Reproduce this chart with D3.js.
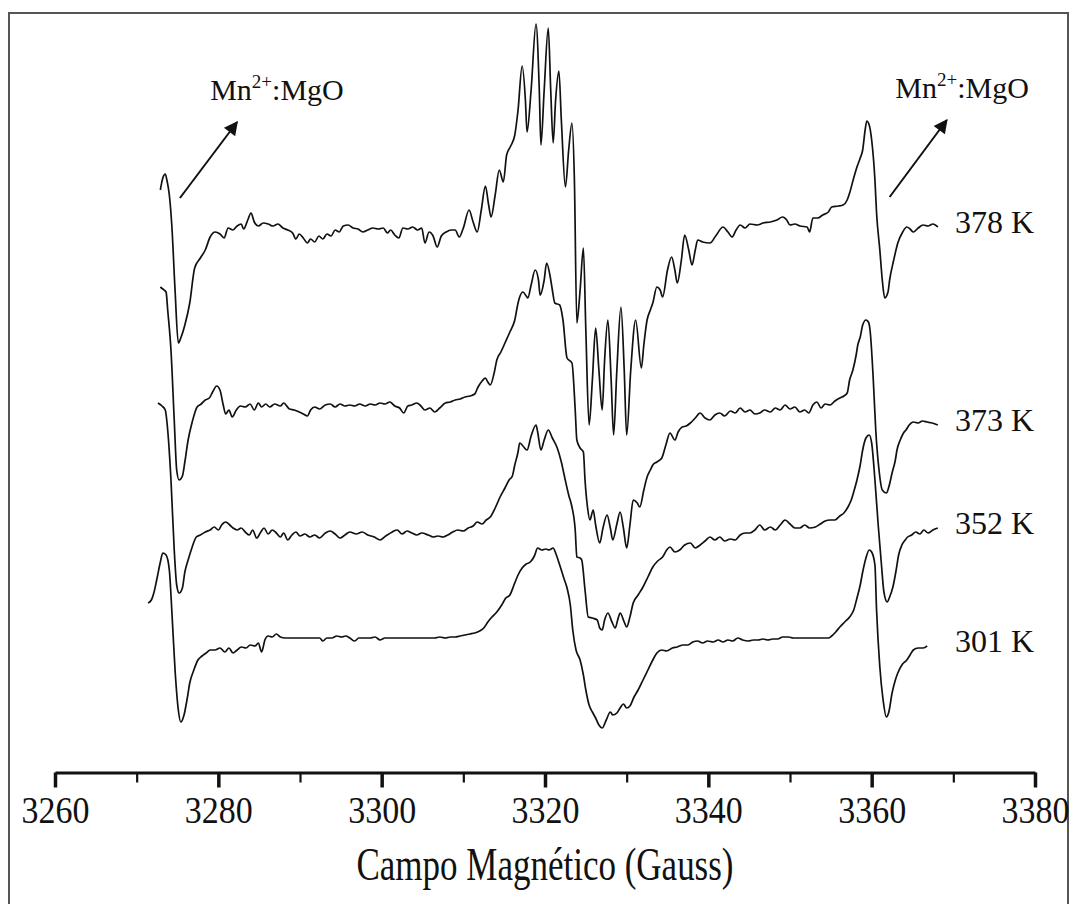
<!DOCTYPE html>
<html>
<head>
<meta charset="utf-8">
<script src="https://cdn.jsdelivr.net/npm/d3@7"></script>
<style>
  body { margin: 0; background: #fff; }
  svg { display: block; }
  text { font-family: "Liberation Serif", "Times New Roman", serif; fill: #111; }
</style>
</head>
<body>
<div id="chart"></div>
<script>
var w = 1074,
    h = 904;

// EPR spectra, [field (G), intensity (a.u.)]
var spec378 = [
  [3272.9,38],[3273.2,50],[3273.5,54],[3273.7,48],[3274.0,33],[3274.3,3],[3274.7,-62],[3275.1,-115],[3275.4,-110],
  [3275.9,-97],[3276.5,-75],[3277.1,-40],[3277.8,-30],[3278.4,-22],[3279.0,-9],[3279.6,-4],[3280.2,-6],[3280.7,-10],
  [3281.2,0],[3281.8,-2],[3282.3,2],[3282.8,4],[3283.1,-1],[3283.6,8],[3284.0,15],[3284.4,6],[3284.9,2],[3285.5,5],
  [3286.1,4],[3286.7,2],[3287.3,4],[3287.9,0],[3288.5,-2],[3289.1,-5],[3289.5,-11],[3289.9,-6],[3290.4,-10],
  [3290.9,-15],[3291.3,-11],[3291.8,-14],[3292.3,-8],[3292.8,-11],[3293.3,-6],[3293.8,-8],[3294.3,-2],[3294.8,-4],
  [3295.3,2],[3295.9,3],[3296.5,0],[3297.1,-1],[3297.7,-4],[3298.3,-2],[3298.9,0],[3299.6,-1],[3300.2,0],[3300.7,-5],
  [3301.1,-2],[3301.6,-7],[3302.1,-10],[3302.6,0],[3303.2,-1],[3303.8,1],[3304.4,-2],[3304.9,0],[3305.3,-15],
  [3305.8,-4],[3306.3,-8],[3306.8,-19],[3307.3,-8],[3307.9,-4],[3308.5,-2],[3309.0,-2],[3309.5,-9],[3310.0,0],
  [3310.7,18],[3311.2,6],[3311.7,-4],[3312.2,18],[3312.7,42],[3313.1,23],[3313.4,11],[3313.9,33],[3314.4,58],
  [3314.9,46],[3315.3,73],[3315.8,82],[3316.3,93],[3316.7,118],[3317.2,162],[3317.6,128],[3317.8,96],[3318.3,138],
  [3318.9,204],[3319.3,138],[3319.5,83],[3319.9,138],[3320.4,200],[3320.7,138],[3321.0,85],[3321.3,128],[3321.7,157],
  [3322.0,108],[3322.5,41],[3322.9,78],[3323.3,105],[3323.6,48],[3323.9,-95],[3324.3,-62],[3324.7,-20],[3325.0,-102],
  [3325.4,-197],[3325.8,-152],[3326.2,-100],[3326.6,-142],[3327.0,-182],[3327.3,-132],[3327.7,-92],[3328.1,-152],
  [3328.4,-207],[3328.8,-142],[3329.3,-79],[3329.7,-142],[3330.0,-207],[3330.5,-142],[3331.1,-92],[3331.8,-140],
  [3332.1,-117],[3332.5,-92],[3332.9,-82],[3333.2,-75],[3333.7,-59],[3334.1,-62],[3334.4,-69],[3335.0,-42],
  [3335.5,-29],[3335.9,-42],[3336.2,-55],[3336.7,-32],[3337.1,-7],[3337.6,-22],[3338.0,-37],[3338.4,-22],[3338.7,-12],
  [3339.3,-14],[3340.2,-15],[3340.9,-8],[3341.8,1],[3342.4,-4],[3342.9,-9],[3343.4,-2],[3343.9,3],[3344.5,0],
  [3345.1,4],[3346.0,3],[3346.7,5],[3347.6,6],[3348.4,8],[3349.1,11],[3349.6,8],[3350.0,3],[3350.6,4],[3351.2,2],
  [3352.1,1],[3352.4,-4],[3352.8,10],[3353.4,10],[3354.0,13],[3354.7,16],[3355.1,21],[3355.9,22],[3356.5,23],
  [3357.0,28],[3357.3,35],[3357.8,50],[3358.2,61],[3358.6,70],[3358.9,78],[3359.2,98],[3359.4,107],[3359.7,103],
  [3360.0,88],[3360.4,48],[3360.6,15],[3361.0,-22],[3361.3,-52],[3361.6,-70],[3362.0,-64],[3362.2,-52],[3362.7,-32],
  [3363.2,-15],[3363.8,-4],[3364.3,1],[3364.7,-1],[3365.1,-4],[3365.7,0],[3366.3,3],[3366.9,2],[3367.5,4],[3368.1,1]
];

var spec373 = [
  [3272.9,118],[3273.2,116],[3273.6,113],[3273.8,95],[3274.2,55],[3274.6,-15],[3274.9,-65],[3275.2,-75],[3275.6,-71],
  [3275.9,-57],[3276.3,-35],[3276.8,-17],[3277.4,-2],[3277.9,1],[3278.4,5],[3278.9,7],[3279.3,13],[3279.8,19],
  [3280.2,15],[3280.6,0],[3280.9,-9],[3281.3,-5],[3281.7,-12],[3282.2,-5],[3282.7,-1],[3283.3,-2],[3283.9,1],
  [3284.4,-5],[3284.9,2],[3285.3,-2],[3285.8,1],[3286.3,-2],[3286.9,1],[3287.6,-1],[3288.0,2],[3288.7,-4],[3289.3,-5],
  [3289.9,-7],[3290.4,-9],[3290.9,-11],[3291.3,-5],[3291.8,-2],[3292.4,-4],[3293.1,0],[3293.7,1],[3294.3,-2],
  [3294.9,1],[3295.5,-1],[3296.1,0],[3296.7,-1],[3297.3,1],[3298.0,-1],[3298.6,1],[3299.2,0],[3299.8,2],[3300.4,1],
  [3301.0,3],[3301.6,-1],[3302.2,-3],[3302.7,-8],[3303.2,-1],[3303.7,0],[3304.3,2],[3304.8,-1],[3305.3,-5],
  [3305.9,-3],[3306.5,-7],[3307.1,-3],[3307.8,2],[3308.4,3],[3309.0,5],[3309.6,6],[3310.2,8],[3310.8,9],[3311.4,11],
  [3311.8,18],[3312.3,24],[3312.7,27],[3313.0,23],[3313.3,20],[3313.8,33],[3314.1,45],[3314.6,53],[3315.1,62],
  [3315.7,73],[3316.3,85],[3316.7,102],[3316.9,108],[3317.3,113],[3317.7,109],[3317.9,107],[3318.3,120],[3318.8,135],
  [3319.2,125],[3319.4,110],[3319.9,125],[3320.2,142],[3320.6,130],[3320.9,115],[3321.2,102],[3321.8,100],[3322.2,85],
  [3322.7,47],[3323.3,42],[3323.7,-5],[3323.9,-35],[3324.3,-43],[3324.7,-47],[3324.9,-75],[3325.2,-102],[3325.5,-115],
  [3325.9,-105],[3326.2,-120],[3326.7,-138],[3327.1,-123],[3327.6,-110],[3328.0,-123],[3328.3,-135],[3328.8,-119],
  [3329.2,-107],[3329.6,-123],[3330.0,-143],[3330.4,-120],[3330.8,-95],[3331.3,-98],[3331.6,-102],[3332.1,-85],
  [3332.5,-72],[3332.9,-65],[3333.2,-60],[3333.7,-57],[3334.3,-53],[3334.8,-40],[3335.3,-28],[3335.9,-35],[3336.3,-27],
  [3336.8,-22],[3337.3,-21],[3337.8,-18],[3338.4,-13],[3339.0,-8],[3339.6,-13],[3340.2,-15],[3340.8,-10],[3341.4,-8],
  [3342.0,-11],[3342.7,-6],[3343.3,-8],[3343.9,-3],[3344.5,-7],[3345.1,-5],[3345.7,-9],[3346.3,-8],[3346.9,-5],
  [3347.6,-7],[3348.2,-3],[3348.8,-5],[3349.4,0],[3350.0,-4],[3350.6,-2],[3351.2,-7],[3351.8,-5],[3352.3,-8],
  [3352.8,0],[3353.3,3],[3353.8,-3],[3354.3,1],[3354.9,0],[3355.5,4],[3356.1,7],[3356.6,9],[3357.0,12],[3357.3,25],
  [3357.7,35],[3358.1,50],[3358.3,60],[3358.6,68],[3358.9,80],[3359.3,85],[3359.6,83],[3359.8,75],[3360.2,25],
  [3360.5,-25],[3360.9,-65],[3361.3,-85],[3361.8,-88],[3362.1,-82],[3362.5,-68],[3362.9,-55],[3363.1,-45],[3363.5,-35],
  [3363.9,-28],[3364.2,-25],[3364.6,-20],[3365.1,-17],[3365.7,-18],[3366.2,-16],[3366.8,-17],[3367.4,-18],[3368.1,-20]
];

var spec352 = [
  [3272.6,130],[3273.1,127],[3273.5,123],[3273.8,103],[3274.2,53],[3274.6,-17],[3274.9,-52],[3275.2,-60],[3275.6,-55],
  [3275.9,-39],[3276.3,-27],[3276.8,-14],[3277.3,-4],[3277.8,-2],[3278.4,1],[3279.0,3],[3279.5,6],[3280.0,3],
  [3280.4,8],[3280.9,11],[3281.4,8],[3281.8,5],[3282.3,3],[3282.8,5],[3283.3,1],[3283.8,-2],[3284.2,3],[3284.7,-5],
  [3285.2,1],[3285.6,5],[3286.1,-1],[3286.6,3],[3287.1,0],[3287.6,-4],[3288.0,0],[3288.5,-7],[3289.0,-2],[3289.5,1],
  [3290.0,-3],[3290.6,-1],[3291.2,-4],[3291.8,-2],[3292.4,-5],[3293.1,0],[3293.7,2],[3294.3,-1],[3294.9,-5],
  [3295.5,-2],[3296.1,1],[3296.9,-1],[3297.6,1],[3298.3,-2],[3299.1,-4],[3299.8,-7],[3300.5,-3],[3301.3,1],[3301.9,3],
  [3302.5,-1],[3303.1,2],[3303.7,0],[3304.3,-2],[3304.9,0],[3305.7,-2],[3306.3,-4],[3306.9,-3],[3307.5,-4],[3308.1,-2],
  [3308.7,1],[3309.3,3],[3310.0,2],[3310.6,5],[3311.2,7],[3311.7,11],[3312.3,9],[3312.8,13],[3313.3,16],[3313.9,25],
  [3314.5,36],[3315.1,45],[3315.6,53],[3316.0,57],[3316.3,68],[3316.7,81],[3316.9,90],[3317.3,87],[3317.8,83],
  [3318.3,97],[3318.9,108],[3319.1,101],[3319.5,83],[3319.9,93],[3320.4,103],[3320.9,95],[3321.5,85],[3322.0,71],
  [3322.4,56],[3322.9,38],[3323.3,26],[3323.7,3],[3323.9,-24],[3324.3,-25],[3324.5,-27],[3324.9,-57],[3325.3,-84],
  [3325.8,-85],[3326.4,-87],[3326.7,-95],[3327.0,-97],[3327.3,-87],[3327.7,-80],[3328.2,-89],[3328.6,-95],[3328.9,-87],
  [3329.2,-80],[3329.7,-89],[3330.0,-94],[3330.4,-84],[3330.8,-70],[3331.4,-62],[3332.0,-54],[3332.6,-44],[3333.2,-34],
  [3333.8,-28],[3334.4,-24],[3334.9,-17],[3335.3,-14],[3335.9,-19],[3336.5,-17],[3337.1,-12],[3337.8,-10],[3338.4,-15],
  [3339.0,-12],[3339.6,-8],[3340.2,-4],[3340.8,-7],[3341.4,-4],[3342.0,-8],[3342.7,-6],[3343.3,-7],[3343.9,-2],
  [3344.5,0],[3345.1,0],[3345.7,3],[3346.3,8],[3346.9,3],[3347.6,6],[3348.2,3],[3348.8,8],[3349.4,13],[3350.0,9],
  [3350.6,5],[3351.2,5],[3351.8,8],[3352.4,5],[3353.1,6],[3353.7,9],[3354.3,12],[3354.9,13],[3355.5,13],[3356.1,17],
  [3356.6,20],[3357.1,26],[3357.5,33],[3357.8,41],[3358.2,53],[3358.6,68],[3358.9,83],[3359.3,95],[3359.7,98],
  [3360.0,90],[3360.4,53],[3360.8,8],[3361.2,-32],[3361.5,-59],[3361.9,-69],[3362.2,-64],[3362.6,-54],[3363.0,-37],
  [3363.3,-22],[3363.7,-12],[3364.1,-7],[3364.4,-4],[3364.9,-2],[3365.4,1],[3365.9,-1],[3366.4,3],[3366.9,0],
  [3367.5,3],[3368.1,5]
];

var spec301 = [
  [3271.4,37],[3271.8,40],[3272.1,47],[3272.5,62],[3272.9,78],[3273.2,87],[3273.6,85],[3274.0,70],[3274.3,30],
  [3274.7,-30],[3275.1,-70],[3275.4,-82],[3275.8,-75],[3276.2,-58],[3276.5,-43],[3277.0,-30],[3277.5,-20],[3278.0,-16],
  [3278.5,-13],[3279.0,-10],[3279.6,-10],[3280.2,-8],[3280.8,-12],[3281.3,-8],[3281.8,-13],[3282.3,-10],[3282.8,-7],
  [3283.4,-8],[3283.9,-5],[3284.5,-6],[3284.9,-3],[3285.3,-12],[3285.7,0],[3286.1,4],[3286.6,3],[3287.1,6],[3287.6,3],
  [3288.2,2],[3288.8,2],[3289.4,2],[3290.0,2],[3290.6,2],[3291.2,2],[3291.8,2],[3292.4,2],[3292.8,-1],[3293.3,2],
  [3293.9,2],[3294.5,4],[3295.1,3],[3295.6,4],[3296.1,2],[3296.7,-1],[3297.2,2],[3298.0,2],[3298.6,2],[3299.2,3],
  [3299.8,0],[3300.4,2],[3301.0,2],[3301.6,2],[3302.2,2],[3302.9,2],[3303.5,2],[3304.1,2],[3304.7,2],[3305.3,2],
  [3305.9,2],[3306.5,2],[3307.1,3],[3307.8,2],[3308.4,3],[3309.0,3],[3309.6,4],[3310.2,5],[3310.8,6],[3311.4,7],
  [3312.0,9],[3312.5,12],[3313.0,18],[3313.5,23],[3314.1,28],[3314.7,35],[3315.2,42],[3315.7,45],[3316.2,55],
  [3316.7,65],[3317.2,72],[3317.7,76],[3318.2,78],[3318.7,84],[3319.1,92],[3319.6,90],[3320.1,91],[3320.5,90],
  [3321.0,92],[3321.3,87],[3321.8,75],[3322.3,62],[3322.7,52],[3323.1,35],[3323.4,10],[3323.8,-10],[3324.3,-20],
  [3324.7,-35],[3325.0,-50],[3325.4,-65],[3325.8,-72],[3326.2,-78],[3326.6,-85],[3327.0,-88],[3327.5,-80],[3328.0,-72],
  [3328.3,-75],[3328.8,-73],[3329.2,-68],[3329.6,-64],[3330.0,-68],[3330.4,-66],[3330.9,-57],[3331.4,-50],[3332.0,-40],
  [3332.6,-30],[3333.2,-20],[3333.7,-13],[3334.3,-10],[3334.9,-11],[3335.6,-8],[3336.2,-7],[3336.9,-5],[3337.5,-5],
  [3338.1,-2],[3338.7,-1],[3339.3,-3],[3339.9,-1],[3340.6,-2],[3341.2,0],[3341.8,-2],[3342.4,0],[3343.0,-1],[3343.6,2],
  [3344.2,0],[3344.9,-1],[3345.5,0],[3346.1,0],[3346.7,1],[3347.3,0],[3347.9,1],[3348.5,1],[3349.1,3],[3349.8,3],
  [3350.4,2],[3351.0,2],[3351.6,2],[3352.2,2],[3352.8,2],[3353.4,2],[3354.0,2],[3354.7,2],[3355.1,4],[3355.6,8],
  [3356.1,13],[3356.7,18],[3357.3,23],[3357.8,30],[3358.2,42],[3358.6,55],[3358.9,68],[3359.3,82],[3359.7,90],
  [3360.0,88],[3360.4,75],[3360.6,30],[3361.0,-27],[3361.4,-60],[3361.8,-77],[3362.1,-72],[3362.5,-53],[3362.9,-40],
  [3363.2,-33],[3363.7,-25],[3364.3,-20],[3364.7,-15],[3365.1,-10],[3365.7,-8],[3366.3,-8],[3366.8,-6]
];

var temps = ["378 K", "373 K", "352 K", "301 K"];
var offsets = [544, 367, 239, 132];
var majorTicks = [3260, 3280, 3300, 3320, 3340, 3360, 3380];
var minorTicks = [3270, 3290, 3310, 3330, 3350, 3370];

var series = [spec378, spec373, spec352, spec301].map(function(d, i) {
    return { label: temps[i], offset: offsets[i], values: d };
});

var x = d3.scaleLinear().domain([3260, 3380]).range([55, 1035]);
var y = d3.scaleLinear().domain([0, 760]).range([772, 12]);

var svg = d3.select("#chart").append("svg")
    .attr("width", w)
    .attr("height", h);

// frame
svg.append("rect")
    .attr("x", 9).attr("y", 13)
    .attr("width", 1059).attr("height", 905)
    .attr("fill", "none")
    .attr("stroke", "#555")
    .attr("stroke-width", 2);

var line = d3.line()
    .curve(d3.curveMonotoneX);

svg.selectAll(".spec")
    .data(series)
    .enter().append("path")
    .attr("class", "spec")
    .attr("fill", "none")
    .attr("stroke", "#111")
    .attr("stroke-width", 1.7)
    .attr("stroke-linejoin", "round")
    .attr("d", function(s) {
        return line(s.values.map(function(p) { return [x(p[0]), y(p[1] + s.offset)]; }));
    });

// temperature labels
svg.selectAll(".temp")
    .data(series)
    .enter().append("text")
    .attr("class", "temp")
    .attr("x", x(3370.2))
    .attr("y", function(s) {
        var last = s.values[s.values.length - 1];
        return y(last[1] + s.offset) + 6;
    })
    .style("font-size", "32px")
    .text(function(s) { return s.label; });

// x axis
var axisG = svg.append("g")
    .attr("transform", "translate(0,772.5)");

axisG.call(d3.axisBottom(x).tickValues(minorTicks).tickSize(10).tickSizeOuter(0).tickFormat(""))
    .selectAll(".tick line").attr("stroke-width", 2.2).attr("stroke", "#111");

var major = axisG.append("g")
    .call(d3.axisBottom(x).tickValues(majorTicks).tickSize(15).tickSizeOuter(0).tickFormat(d3.format("d")));
major.selectAll(".tick line").attr("stroke-width", 3.5).attr("stroke", "#111");
major.selectAll(".tick text")
    .attr("y", 0).attr("dy", 0)
    .attr("transform", "translate(0,50) scale(1,1.1)")
    .style("font-size", "34px")
    .style("font-family", "'Liberation Serif', 'Times New Roman', serif")
    .attr("fill", "#111");
axisG.selectAll(".domain").attr("stroke", "#111").attr("stroke-width", 3);
major.select(".domain").remove();

svg.append("text")
    .attr("transform", "translate(" + x(3320) + ",880) scale(1,1.3)")
    .attr("text-anchor", "middle")
    .style("font-size", "35px")
    .text("Campo Magnético (Gauss)");

// Mn2+:MgO annotations
var notes = [
    { tx: 3279.0, ty: 672, x1: 3275.3, y1: 574, x2: 3282.3, y2: 650 },
    { tx: 3362.9, ty: 674, x1: 3362.2, y1: 575, x2: 3369.2, y2: 652 }
];

svg.append("defs").append("marker")
    .attr("id", "arrowhead")
    .attr("viewBox", "0 0 10 10")
    .attr("refX", 9).attr("refY", 5)
    .attr("markerWidth", 8).attr("markerHeight", 7)
    .attr("markerUnits", "strokeWidth")
    .attr("orient", "auto")
    .append("path")
    .attr("d", "M0,0 L10,5 L0,10 z")
    .attr("fill", "#111");

notes.forEach(function(n) {
    svg.append("line")
        .attr("x1", x(n.x1)).attr("y1", y(n.y1))
        .attr("x2", x(n.x2)).attr("y2", y(n.y2))
        .attr("stroke", "#111")
        .attr("stroke-width", 2)
        .attr("marker-end", "url(#arrowhead)");

    var t = svg.append("text")
        .attr("x", x(n.tx)).attr("y", y(n.ty))
        .style("font-size", "30px");
    t.append("tspan").text("Mn");
    t.append("tspan").attr("dy", -12).style("font-size", "19px").text("2+");
    t.append("tspan").attr("dy", 12).text(":MgO");
});
</script>
</body>
</html>
